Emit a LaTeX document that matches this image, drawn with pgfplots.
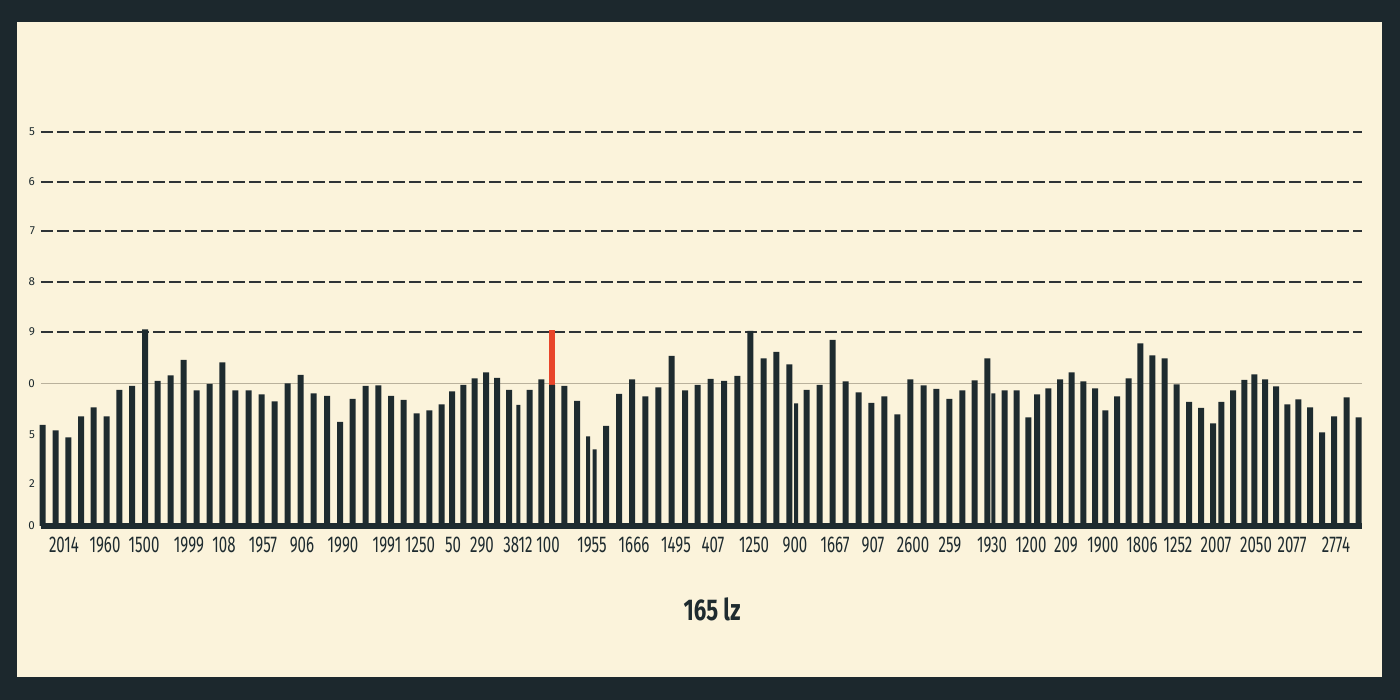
\documentclass[border=0pt]{standalone}
\usepackage{fontspec}
\setmainfont{Fira Sans}
\newfontfamily\condfont[FakeStretch=0.66]{Fira Sans}
\newfontfamily\titlefont[FakeStretch=0.74]{Fira Sans}
\usepackage{pgfplots}
\pgfplotsset{compat=1.18}
\definecolor{paper}{HTML}{FBF3DB}
\definecolor{frame}{HTML}{1C282D}
\definecolor{barink}{HTML}{1E2B2F}
\definecolor{hilite}{HTML}{E8452A}
\definecolor{gridgray}{HTML}{B9B19C}
\definecolor{dashink}{HTML}{2E3336}

% bar centres in pixel columns of the original, heights in grid units
\pgfplotstableread{
x y
42.7 2.02
55.7 1.91
68.3 1.77
81 2.19
93.7 2.37
106.7 2.19
119.3 2.72
132 2.80
145 3.93
157.7 2.90
170.7 3.01
183.7 3.32
196.7 2.71
209.7 2.84
222.3 3.27
235.3 2.71
248.7 2.71
261.7 2.63
274.7 2.49
287.7 2.85
300.7 3.02
313.7 2.65
327 2.60
340 2.08
352.7 2.54
365.7 2.80
378.3 2.81
391 2.60
403.7 2.52
416.7 2.25
429.3 2.31
441.7 2.43
452 2.69
463.3 2.82
474.7 2.95
486 3.07
497 2.96
509 2.72
529.7 2.72
541.3 2.93
552 2.82
564.3 2.80
577 2.50
606 2.00
619 2.64
632 2.93
645.3 2.59
658.3 2.77
671.7 3.40
685 2.71
697.7 2.82
710.7 2.94
724 2.90
737.3 3.00
750.3 3.90
763.7 3.35
776.3 3.48
789.3 3.23
806.7 2.72
819.7 2.82
832.7 3.72
845.7 2.89
858.7 2.67
871.3 2.46
884.3 2.59
897.3 2.23
910.3 2.93
923.7 2.81
936.3 2.74
949.3 2.54
962.3 2.71
974.7 2.91
987.3 3.35
1004.7 2.71
1016.7 2.71
1028.3 2.17
1037 2.63
1048.3 2.75
1060 2.93
1071.7 3.07
1083.3 2.89
1095 2.75
1105.3 2.31
1117 2.59
1128.7 2.95
1140.3 3.65
1152.3 3.41
1164.7 3.35
1176.7 2.83
1189 2.48
1201 2.36
1213 2.05
1221.3 2.48
1233 2.71
1244.3 2.92
1254.3 3.03
1265 2.93
1276 2.79
1287.3 2.43
1298.3 2.53
1310 2.37
1322 1.87
1334 2.19
1346.7 2.57
1358.7 2.17
}\wide

\pgfplotstableread{
x y
518.3 2.42
588 1.79
594.7 1.53
796 2.45
993.3 2.65
}\thin

\begin{document}
\begin{tikzpicture}
\fill[frame] (0,0) rectangle (700pt,350pt);
\fill[paper] (8.5pt,11.5pt) rectangle (691pt,339pt);
\begin{axis}[
    at={(20.5pt,87pt)}, anchor=south west,
    scale only axis,
    width=660.5pt, height=200pt,
    xmin=41, xmax=1362,
    ymin=0, ymax=8,
    clip=false,
    ybar,
    axis x line*=bottom,
    axis y line*=left,
    x axis line style={line width=2.6pt, color=barink},
    y axis line style={draw=none},
    major tick length=0pt, minor tick length=0pt,
    xtick={64,105,144,189,224,263,302,343,387,420,453,482,518,548,592,634,676,713,754,795,835,873,913,950,992,1031,1066,1103,1142,1178,1216,1256,1292,1336},
    xticklabels={2014,1960,1500,1999,108,1957,906,1990,1991,1250,50,290,3812,100,1955,1666,1495,407,1250,900,1667,907,2600,259,1930,1200,209,1900,1806,1252,2007,2050,2077,2774},
    xticklabel style={font=\condfont\fontsize{11.4}{12}\selectfont, color=barink, anchor=north, yshift=-2.2pt},
    ytick={0,0.84,1.82,2.84,3.88,4.88,5.9,6.88,7.88},
    yticklabels={0,2,5,0,9,8,7,6,5},
    yticklabel style={font=\fontsize{5.8}{7}\selectfont, color=barink, xshift=0.5pt},
    extra y ticks={3.88,4.88,5.9,6.88,7.88},
    extra y tick labels={},
    extra y tick style={grid=major},
    major grid style={dashed, dash pattern=on 6pt off 2pt, line width=0.7pt, color=dashink},
    minor ytick={2.84},
    yminorgrids=true,
    minor grid style={line width=0.5pt, color=gridgray},
    xlabel={\titlefont\bfseries 165 lz},
    xlabel style={at={(axis description cs:0.508,-0.2075)}, anchor=center, font=\fontsize{15}{16}\selectfont, color=barink},
  ]
  \addplot[fill=hilite, draw=none, bar width=3pt, bar shift=0pt] coordinates {(552,3.92)};
  \addplot[fill=barink, draw=none, bar width=3pt, bar shift=0pt] table[x=x, y=y] {\wide};
  \addplot[fill=barink, draw=none, bar width=2pt, bar shift=0pt] table[x=x, y=y] {\thin};
\end{axis}
\end{tikzpicture}
\end{document}
